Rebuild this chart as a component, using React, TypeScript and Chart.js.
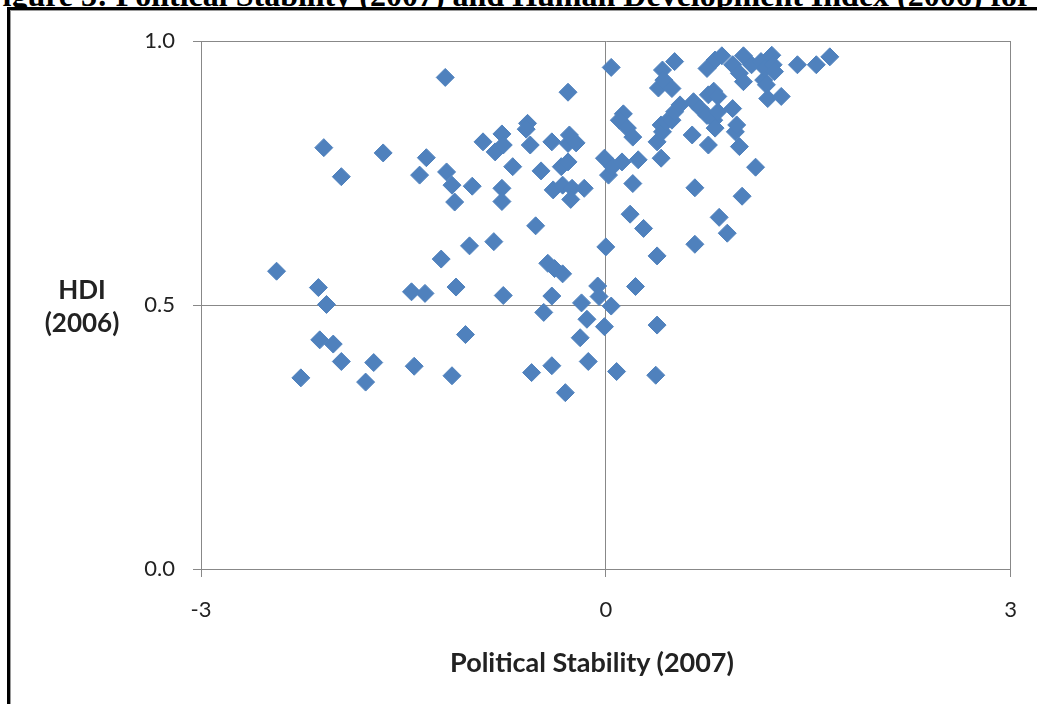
import { useEffect, useRef } from 'react';
import { Chart, registerables } from 'chart.js';

Chart.register(...registerables);

// Political Stability (2007) per country
const politicalStability = [
  -2.44, -2.26, -2.13, -2.12, -2.07, -2.09, -2.02, -1.96, -1.96, -1.78,
  -1.72, -1.65, -1.44, -1.42, -1.38, -1.34, -1.33, -1.22, -1.19, -1.18,
  -1.14, -1.14, -1.11, -1.12, -1.04, -1.01, -0.99, -0.91, -0.83, -0.82,
  -0.77, -0.76, -0.77, -0.77, -0.76, -0.69, -0.58, -0.59, -0.56, -0.55,
  -0.52, -0.48, -0.46, -0.43, -0.40, -0.40, -0.40, -0.39, -0.38, -0.33,
  -0.32, -0.32, -0.30, -0.28, -0.28, -0.28, -0.27, -0.25, -0.26, -0.22,
  -0.19, -0.18, -0.16, -0.14, -0.13, -0.06, -0.05, -0.01, -0.01, 0.0,
  0.02, 0.04, 0.04, 0.05, 0.08, 0.12, 0.13, 0.10, 0.16, 0.20,
  0.18, 0.20, 0.22, 0.24, 0.28, 0.37, 0.38, 0.38, 0.38, 0.39,
  0.41, 0.41, 0.42, 0.42, 0.43, 0.45, 0.49, 0.49, 0.51, 0.51,
  0.55, 0.64, 0.65, 0.66, 0.66, 0.70, 0.75, 0.75, 0.76, 0.76,
  0.80, 0.80, 0.81, 0.81, 0.83, 0.83, 0.84, 0.86, 0.90, 0.94,
  0.94, 0.96, 0.97, 0.99, 0.99, 1.01, 1.02, 1.02, 1.08, 1.11,
  1.15, 1.17, 1.18, 1.19, 1.20, 1.23, 1.24, 1.25, 1.30, 1.42,
  1.56, 1.66,
];

// Human Development Index (2006) per country
const hdi = [
  0.564, 0.362, 0.533, 0.434, 0.501, 0.798, 0.426, 0.743, 0.393, 0.354,
  0.391, 0.788, 0.525, 0.384, 0.746, 0.522, 0.779, 0.587, 0.931, 0.752,
  0.366, 0.727, 0.534, 0.695, 0.444, 0.612, 0.725, 0.809, 0.620, 0.790,
  0.824, 0.803, 0.721, 0.696, 0.518, 0.762, 0.844, 0.833, 0.803, 0.372,
  0.650, 0.754, 0.486, 0.579, 0.809, 0.385, 0.517, 0.718, 0.569, 0.762,
  0.559, 0.727, 0.334, 0.903, 0.806, 0.771, 0.822, 0.721, 0.700, 0.807,
  0.438, 0.504, 0.721, 0.473, 0.393, 0.536, 0.516, 0.459, 0.778, 0.610,
  0.746, 0.950, 0.498, 0.762, 0.374, 0.771, 0.862, 0.850, 0.835, 0.818,
  0.672, 0.730, 0.535, 0.775, 0.645, 0.367, 0.809, 0.593, 0.462, 0.911,
  0.841, 0.778, 0.828, 0.945, 0.926, 0.847, 0.910, 0.850, 0.961, 0.866,
  0.879, 0.822, 0.885, 0.722, 0.615, 0.872, 0.948, 0.859, 0.898, 0.803,
  0.905, 0.850, 0.964, 0.835, 0.895, 0.866, 0.666, 0.972, 0.636, 0.955,
  0.872, 0.828, 0.841, 0.939, 0.800, 0.706, 0.972, 0.923, 0.955, 0.761,
  0.961, 0.926, 0.948, 0.917, 0.891, 0.973, 0.955, 0.942, 0.895, 0.955,
  0.955, 0.970,
];

const xTickValues = [-3, 0, 3];
const yTickValues = [0, 0.5, 1];

const chartTitle =
  'Figure 3: Political Stability (2007) and Human Development Index (2006) for';
const xAxisTitle = 'Political Stability (2007)';
const yAxisTitleLines = ['HDI', '(2006)'];

const markerColor = '#4F81BD';
const gridColor = '#888888';
const labelFont = 'Lato, "Open Sans", sans-serif';

export default function App() {
  const canvasRef = useRef<HTMLCanvasElement>(null);

  useEffect(() => {
    const canvas = canvasRef.current;
    if (!canvas) return;
    const points = politicalStability.map((x, i) => ({ x, y: hdi[i] }));
    const chart = new Chart(canvas, {
      type: 'scatter',
      data: {
        datasets: [
          {
            data: points,
            pointStyle: 'rectRot',
            pointRadius: 9,
            pointHoverRadius: 9,
            pointBackgroundColor: markerColor,
            pointBorderColor: markerColor,
            pointBorderWidth: 1,
          },
        ],
      },
      options: {
        responsive: false,
        animation: false,
        devicePixelRatio: 1,
        layout: { padding: { left: 0, top: 41, right: 26, bottom: 0 } },
        plugins: {
          legend: { display: false },
          tooltip: { enabled: false },
          title: { display: false },
        },
        scales: {
          x: {
            type: 'linear',
            min: -3,
            max: 3,
            afterBuildTicks: (scale: any) => {
              scale.ticks = xTickValues.map((v) => ({ value: v }));
            },
            afterFit: (scale: any) => {
              scale.height = 135;
            },
            ticks: {
              color: '#222',
              font: { family: labelFont, size: 22 },
              padding: 20,
              maxRotation: 0,
              callback: (v: any) => String(v),
            },
            grid: { color: gridColor, lineWidth: 1, tickLength: 8 },
            border: { color: gridColor, width: 1 },
          },
          y: {
            type: 'linear',
            min: 0,
            max: 1,
            afterBuildTicks: (scale: any) => {
              scale.ticks = yTickValues.map((v) => ({ value: v }));
            },
            afterFit: (scale: any) => {
              scale.width = 201;
            },
            ticks: {
              color: '#222',
              font: { family: labelFont, size: 22 },
              padding: 18,
              callback: (v: any) => Number(v).toFixed(1),
            },
            grid: { color: gridColor, lineWidth: 1, tickLength: 8 },
            border: { color: gridColor, width: 1 },
          },
        },
      },
    });
    return () => chart.destroy();
  }, []);

  return (
    <div
      style={{
        position: 'absolute',
        left: 0,
        top: 0,
        width: 1037,
        height: 704,
        overflow: 'hidden',
        background: '#fff',
      }}
    >
      <div
        style={{
          position: 'absolute',
          left: -17,
          top: -23,
          whiteSpace: 'nowrap',
          fontFamily: '"Liberation Serif", "Times New Roman", serif',
          fontWeight: 'bold',
          fontSize: 32,
          lineHeight: '36px',
          color: '#000',
        }}
      >
        {chartTitle}
      </div>
      <div
        style={{
          position: 'absolute',
          left: 7,
          top: 7,
          width: 1100,
          height: 800,
          borderLeft: '3px solid #000',
          borderTop: '3px solid #000',
          boxShadow: 'inset 1px 1px 0 #9a9a9a',
          background: '#fff',
        }}
      />
      <canvas
        ref={canvasRef}
        width={1037}
        height={704}
        style={{ position: 'absolute', left: 0, top: 0, width: 1037, height: 704 }}
      />
      <div
        style={{
          position: 'absolute',
          left: 22,
          top: 273,
          width: 120,
          textAlign: 'center',
          fontFamily: labelFont,
          fontWeight: 'bold',
          fontSize: 26,
          lineHeight: '33px',
          color: '#222',
        }}
      >
        {yAxisTitleLines.map((line) => (
          <div key={line}>{line}</div>
        ))}
      </div>
      <div
        style={{
          position: 'absolute',
          left: 392,
          top: 645,
          width: 400,
          textAlign: 'center',
          fontFamily: labelFont,
          fontWeight: 'bold',
          fontSize: 27,
          lineHeight: '34px',
          color: '#222',
          whiteSpace: 'nowrap',
        }}
      >
        {xAxisTitle}
      </div>
    </div>
  );
}
